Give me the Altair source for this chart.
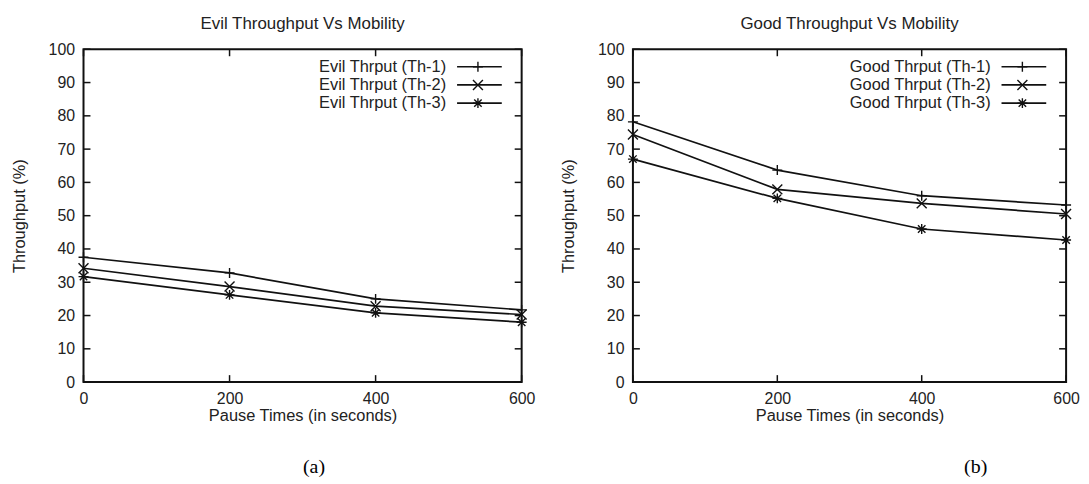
import altair as alt
import pandas as pd

# ---- data ----
pause_times = [0, 200, 400, 600]

evil_labels = ["Evil Thrput (Th-1)", "Evil Thrput (Th-2)", "Evil Thrput (Th-3)"]
evil_th1 = [37.5, 32.8, 25.0, 21.7]
evil_th2 = [34.2, 28.7, 22.8, 20.3]
evil_th3 = [31.7, 26.2, 20.8, 18.0]

good_labels = ["Good Thrput (Th-1)", "Good Thrput (Th-2)", "Good Thrput (Th-3)"]
good_th1 = [78.2, 63.7, 56.0, 53.2]
good_th2 = [74.4, 57.9, 53.7, 50.5]
good_th3 = [67.0, 55.2, 46.0, 42.7]

x_ticks = [0, 200, 400, 600]
y_ticks = [0, 10, 20, 30, 40, 50, 60, 70, 80, 90, 100]

titles = ["Evil Throughput Vs Mobility", "Good Throughput Vs Mobility"]
x_title = "Pause Times (in seconds)"
y_title = "Throughput (%)"
captions = ["(a)", "(b)"]

# gnuplot-like marker shapes: plus, cross, asterisk
PATHS = [
    "M-1,0L1,0M0,-1L0,1",
    "M-1,-1L1,1M-1,1L1,-1",
    "M-1,0L1,0M0,-1L0,1M-0.75,-0.75L0.75,0.75M-0.75,0.75L0.75,-0.75",
]

INK = "#111111"
TXT = "#222222"
FONT = "Liberation Sans"
H = 335


def panel(title, labels, series, caption, W, cap_x):
    rows = []
    for lab, vals in zip(labels, series):
        for t, v in zip(pause_times, vals):
            rows.append({"t": t, "v": v, "s": lab})
    df = pd.DataFrame(rows)

    xscale = alt.Scale(domain=[0, 600], nice=False, zero=False)
    yscale = alt.Scale(domain=[0, 100], nice=False)
    xaxis = alt.Axis(values=x_ticks, title=x_title, labelPadding=9,
                     titlePadding=1, ticks=False, domain=False,
                     grid=False, labelFlush=False, labelOverlap=False,
                     labelFont=FONT, labelFontSize=16, labelColor=TXT,
                     titleFont=FONT, titleFontSize=16.5,
                     titleFontWeight="normal", titleColor=TXT)
    yaxis = alt.Axis(values=y_ticks, title=y_title, labelPadding=9,
                     titlePadding=21, ticks=False, domain=False,
                     grid=False, labelOverlap=False,
                     labelFont=FONT, labelFontSize=16, labelColor=TXT,
                     titleFont=FONT, titleFontSize=16.5,
                     titleFontWeight="normal", titleColor=TXT)
    X = alt.X("t:Q", scale=xscale, axis=xaxis)
    Y = alt.Y("v:Q", scale=yscale, axis=yaxis)

    base = alt.Chart(df)
    lines = base.mark_line(color=INK, strokeWidth=1.7).encode(
        x=X, y=Y, detail="s:N")
    pts = base.mark_point(filled=False, color=INK, strokeWidth=1.4, size=100,
                          opacity=1).encode(
        x=X, y=Y,
        shape=alt.Shape("s:N", scale=alt.Scale(domain=labels, range=PATHS),
                        legend=None))

    # inward ticks on all four sides
    ydf = pd.DataFrame({"v": y_ticks})
    xdf = pd.DataFrame({"t": x_ticks})
    tk = dict(color=INK, strokeWidth=1.5)
    ytl = alt.Chart(ydf).mark_rule(**tk).encode(
        y=Y, x=alt.value(0), x2=alt.value(7))
    ytr = alt.Chart(ydf).mark_rule(**tk).encode(
        y=Y, x=alt.value(W - 7), x2=alt.value(W))
    xtb = alt.Chart(xdf).mark_rule(**tk).encode(
        x=X, y=alt.value(H - 7), y2=alt.value(H))
    xtt = alt.Chart(xdf).mark_rule(**tk).encode(
        x=X, y=alt.value(0), y2=alt.value(7))

    layers = [lines, pts, ytl, ytr, xtb, xtt]

    # manual gnuplot-style key (label, then line with marker)
    for i, lab in enumerate(labels):
        ypos = 17.6 + 18.3 * i
        ldf = pd.DataFrame({"s": [lab]})
        layers.append(alt.Chart(ldf).mark_text(
            align="right", baseline="middle", font=FONT, fontSize=16.5,
            color=TXT).encode(text="s:N", x=alt.value(W - 76),
                              y=alt.value(ypos)))
        layers.append(alt.Chart(ldf).mark_rule(color=INK, strokeWidth=1.7).encode(
            x=alt.value(W - 65), x2=alt.value(W - 20), y=alt.value(ypos)))
        layers.append(alt.Chart(ldf).mark_point(
            filled=False, color=INK, strokeWidth=1.4, size=100, opacity=1,
            shape=PATHS[i]).encode(x=alt.value(W - 44), y=alt.value(ypos)))

    cdf = pd.DataFrame({"c": [caption]})
    layers.append(alt.Chart(cdf).mark_text(
        font="Liberation Serif", fontSize=20, color="#000", baseline="middle",
        align="center").encode(text="c:N", x=alt.value(cap_x),
                               y=alt.value(420)))

    return alt.layer(*layers).properties(
        width=W, height=H,
        title=alt.TitleParams(title, fontSize=17, fontWeight="normal",
                              font=FONT, color=TXT, offset=8,
                              anchor="middle"))


left = panel(titles[0], evil_labels, [evil_th1, evil_th2, evil_th3],
             captions[0], 441, 232)
right = panel(titles[1], good_labels, [good_th1, good_th2, good_th3],
              captions[1], 436, 345)

chart = alt.hconcat(left, right, spacing=23).properties(
    padding={"left": 2, "top": 5, "right": 0, "bottom": 0},
    background="white"
).configure_view(stroke=INK, strokeWidth=2)

chart.save("out.html", embed_options={"renderer": "svg", "actions": False})
